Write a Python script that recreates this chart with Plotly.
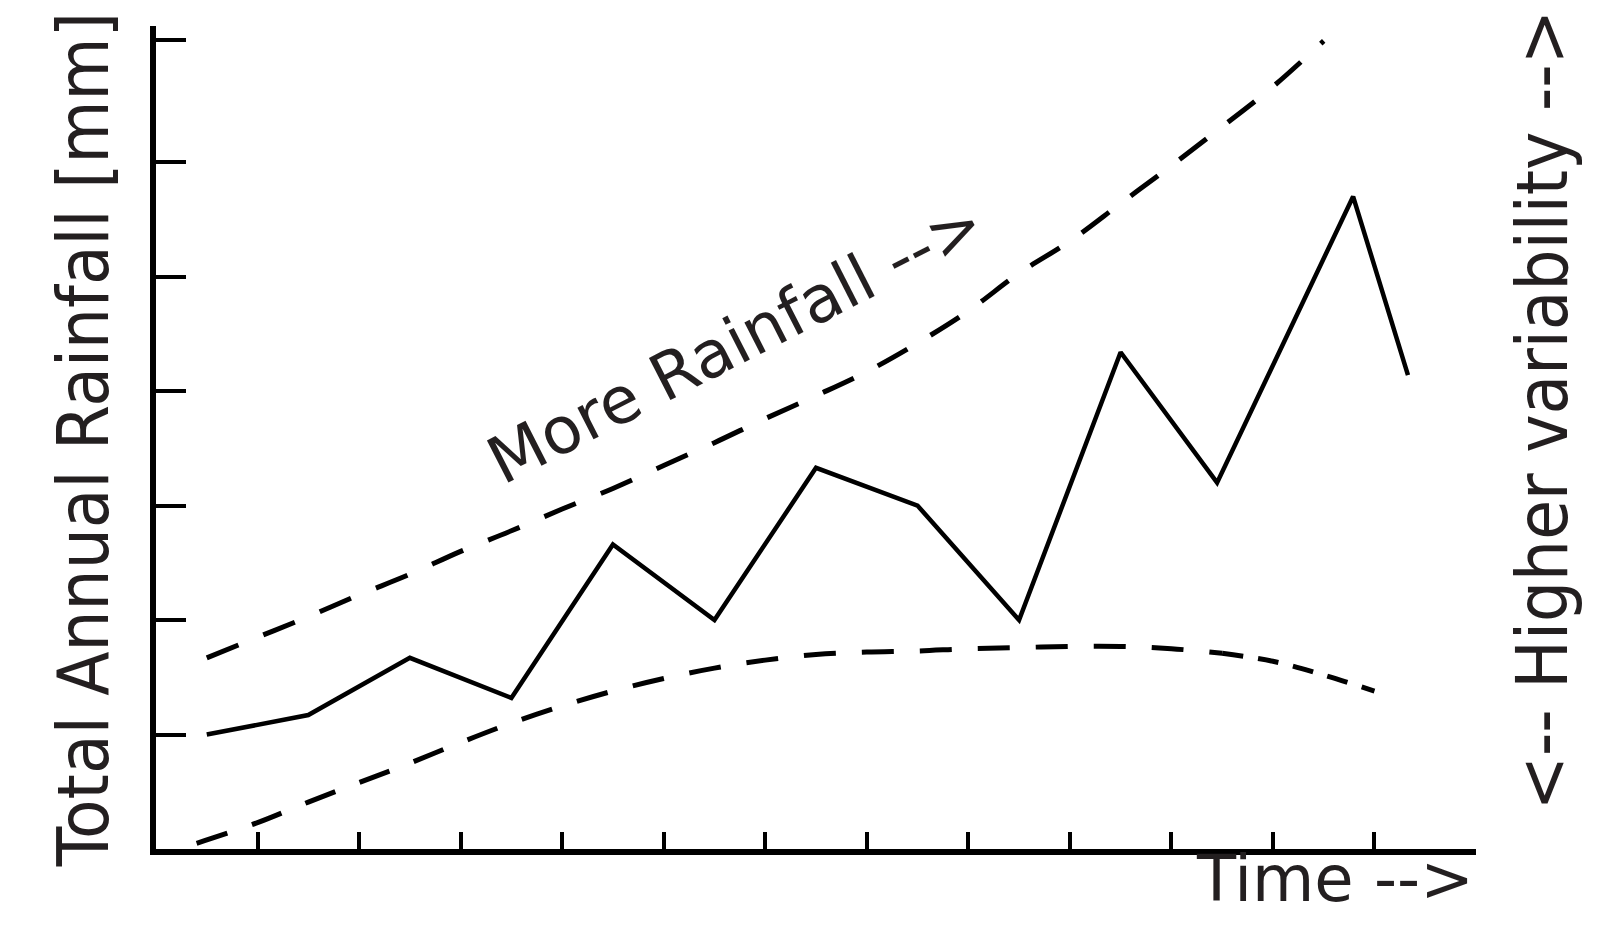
import plotly.graph_objects as go

# Observed rainfall (solid line)
obs_x = [0.5, 1.5, 2.5, 3.5, 4.5, 5.5, 6.5, 7.5, 8.5, 9.5, 10.45, 11.79, 12.33]
obs_y = [1.0, 1.17, 1.67, 1.32, 2.66, 2.0, 3.33, 3.0, 2.0, 4.34, 3.2, 5.7, 4.14]

# Upper envelope (dashed)
upper_x = [0.5, 1.0, 1.5, 2.0, 2.5, 3.0, 3.5, 4.0, 4.5, 5.0, 5.5, 6.0, 6.5, 7.0,
           7.5, 8.0, 8.5, 9.0, 9.5, 10.0, 10.5, 11.0, 11.5]
upper_y = [1.67, 1.85, 2.03, 2.22, 2.40, 2.60, 2.78, 2.97, 3.15, 3.35, 3.55, 3.76,
           3.96, 4.17, 4.42, 4.70, 5.03, 5.31, 5.64, 5.97, 6.31, 6.66, 7.06]

# Lower envelope (dashed)
lower_x = [0.4, 1.0, 1.5, 2.0, 2.5, 3.0, 3.5, 4.0, 4.5, 5.0, 5.5, 6.0, 6.5, 7.0,
           7.5, 8.0, 8.5, 9.0, 9.5, 10.0, 10.5, 11.0, 11.5, 12.0]
lower_y = [0.05, 0.23, 0.41, 0.58, 0.75, 0.93, 1.10, 1.25, 1.38, 1.49, 1.58, 1.65,
           1.70, 1.72, 1.73, 1.75, 1.76, 1.77, 1.77, 1.75, 1.71, 1.64, 1.52, 1.38]

x_ticks = list(range(1, 14))
y_ticks = [1, 2, 3, 4, 5, 6, 7.07]

TEXT = "#231f20"
split = lower_x.index(10.5)

fig = go.Figure()
fig.add_trace(go.Scatter(x=upper_x, y=upper_y, mode="lines",
                         line=dict(color="black", width=5, dash="34px,27px", shape="spline"),
                         hoverinfo="skip"))
fig.add_trace(go.Scatter(x=lower_x[:split + 1], y=lower_y[:split + 1], mode="lines",
                         line=dict(color="black", width=5, dash="32px,26px", shape="spline"),
                         hoverinfo="skip"))
fig.add_trace(go.Scatter(x=lower_x[split:], y=lower_y[split:], mode="lines",
                         line=dict(color="black", width=5, dash="21px,15px", shape="spline"),
                         hoverinfo="skip"))
fig.add_trace(go.Scatter(x=obs_x, y=obs_y, mode="lines",
                         line=dict(color="black", width=4.5), hoverinfo="skip"))

fig.update_layout(
    width=1607, height=909,
    margin=dict(l=148, r=139, t=18, b=68),
    paper_bgcolor="white", plot_bgcolor="white",
    showlegend=False,
    xaxis=dict(range=[0, 13], showgrid=False, zeroline=False, showline=True,
               linecolor="black", linewidth=5.5, ticks="inside", ticklen=17, tickwidth=3.5,
               tickcolor="black", tickvals=x_ticks, showticklabels=False),
    yaxis=dict(range=[0, 7.19], showgrid=False, zeroline=False, showline=True,
               linecolor="black", linewidth=5.5, ticks="inside", ticklen=30, tickwidth=3.5,
               tickcolor="black", tickvals=y_ticks, showticklabels=False),
    annotations=[
        dict(text="Total Annual Rainfall [mm]", xref="paper", yref="paper",
             x=-0.055, y=0.497, xanchor="center", yanchor="middle", textangle=-90,
             showarrow=False, font=dict(family="DejaVu Sans Condensed", size=72, color=TEXT)),
        dict(text="&lt;-- Higher variability --&gt;", xref="paper", yref="paper",
             x=1.050, y=0.533, xanchor="center", yanchor="middle", textangle=-90,
             showarrow=False, font=dict(family="DejaVu Sans Condensed", size=72, color=TEXT)),
        dict(text="Time --&gt;", xref="paper", yref="paper",
             x=0.893, y=-0.037, xanchor="center", yanchor="middle", borderpad=0,
             showarrow=False, font=dict(family="DejaVu Sans", size=64, color=TEXT)),
        dict(text="More Rainfall --&gt;", xref="x", yref="y",
             x=5.71, y=4.43, xanchor="center", yanchor="middle", textangle=-27,
             showarrow=False, font=dict(family="DejaVu Sans", size=65, color=TEXT)),
    ],
)

fig.write_html("out.html")
